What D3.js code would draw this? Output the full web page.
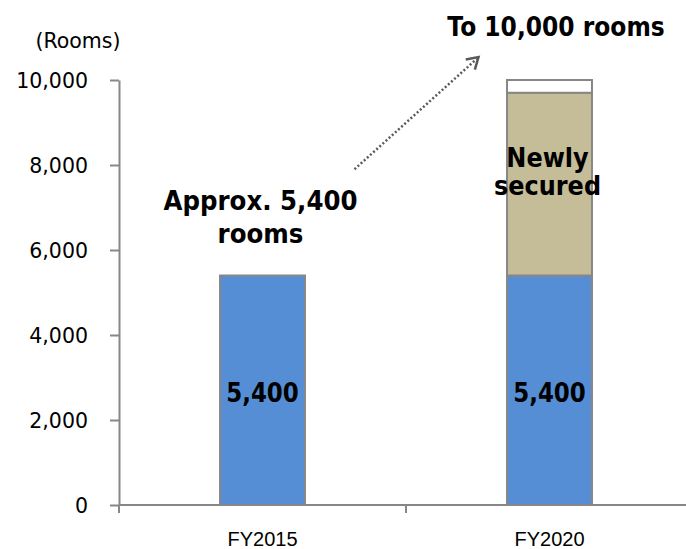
<!DOCTYPE html>
<html><head><meta charset="utf-8">
<script src="https://cdn.jsdelivr.net/npm/d3@7"></script>
<style>body{margin:0;background:#fff}svg{display:block}</style>
</head><body><svg id="c" width="686" height="549"></svg>
<script>
const categories = ["FY2015", "FY2020"];
const existingRooms = [5400, 5400];
const newlySecured = [0, 4300];
const remainingToTarget = [0, 300];
const yTicks = [0, 2000, 4000, 6000, 8000, 10000];
const barLabels = ["5,400", "5,400"];

const svg = d3.select("#c");
const x = d3.scaleBand().domain(categories).range([119, 693]);
const y = d3.scaleLinear().domain([0, 10000]).range([505, 80]);
const bw = x.bandwidth() * 0.296;
const cx = c => x(c) + x.bandwidth() / 2;

const stacks = categories.map((c, i) => {
  const segs = [];
  let base = 0;
  [[existingRooms[i], "#558ED5"], [newlySecured[i], "#C4BD97"], [remainingToTarget[i], "#FFFFFF"]].forEach(([v, col]) => {
    if (v > 0) segs.push({c, y0: base, y1: base + v, col});
    base += v;
  });
  return segs;
}).flat();

svg.append("g").selectAll("rect").data(stacks).join("rect")
  .attr("x", d => cx(d.c) - bw / 2)
  .attr("width", bw)
  .attr("y", d => y(d.y1))
  .attr("height", d => y(d.y0) - y(d.y1))
  .attr("fill", d => d.col)
  .attr("stroke", "#878787")
  .attr("stroke-width", 2);

// axes
const yAxis = svg.append("g").attr("transform", "translate(119,0)")
  .call(d3.axisLeft(y).tickValues(yTicks).tickSize(9).tickSizeOuter(0).tickFormat(d3.format(",")));
yAxis.select(".domain").attr("stroke", "#878787").attr("stroke-width", 2);
yAxis.selectAll(".tick line").attr("stroke", "#878787").attr("stroke-width", 2);
yAxis.selectAll(".tick text").attr("x", -31).attr("dy", "0.36em")
  .attr("font-family", "DejaVu Sans").attr("font-size", 20.5).attr("fill", "#000");

const xAxis = svg.append("g").attr("transform", "translate(0,505)");
xAxis.append("line").attr("x1", 119).attr("x2", 693).attr("stroke", "#878787").attr("stroke-width", 2);
xAxis.selectAll("line.t").data([119, 119 + x.step(), 119 + 2 * x.step()]).join("line").attr("class", "t")
  .attr("x1", d => d).attr("x2", d => d).attr("y1", 0).attr("y2", 8)
  .attr("stroke", "#878787").attr("stroke-width", 2);
xAxis.selectAll("text").data(categories).join("text")
  .attr("x", d => cx(d)).attr("y", 41).attr("text-anchor", "middle")
  .attr("font-family", "Liberation Sans, Arial").attr("font-size", 20).text(d => d);

svg.append("text").attr("x", 78).attr("y", 48).attr("text-anchor", "middle")
  .attr("font-family", "DejaVu Sans").attr("font-size", 20.5).text("(Rooms)");

const bold = (t, xx, yy, fs) => svg.append("text")
  .attr("transform", `translate(${xx},${yy}) scale(1,1.12)`).attr("text-anchor", "middle")
  .attr("font-family", "DejaVu Sans").attr("font-weight", "bold").attr("font-size", fs).text(t);

// bar value labels
categories.forEach((c, i) => bold(barLabels[i], cx(c), y(2430), 23));

bold("Newly", cx("FY2020") - 2, y(7950), 24);
bold("secured", cx("FY2020") - 2, y(7290), 24);
bold("Approx. 5,400", cx("FY2015") - 2, y(6940), 24.5);
bold("rooms", cx("FY2015") - 2, y(6160), 24.5);
bold("To 10,000 rooms", 556, 36, 23.4);

// dotted arrow
const ax1 = cx("FY2015") + 92, ay1 = y(7900), ax2 = cx("FY2020") - 71, ay2 = y(10540);
svg.append("line").attr("x1", ax1).attr("y1", ay1).attr("x2", ax2 - 2).attr("y2", ay2 + 2)
  .attr("stroke", "#595959").attr("stroke-width", 2.5).attr("stroke-dasharray", "2,2.2");
const ang = Math.atan2(ay2 - ay1, ax2 - ax1);
const hl = 13, ha = 0.55;
svg.append("path")
  .attr("d", `M${ax2 - hl * Math.cos(ang - ha)},${ay2 - hl * Math.sin(ang - ha)} L${ax2},${ay2} L${ax2 - hl * Math.cos(ang + ha)},${ay2 - hl * Math.sin(ang + ha)}`)
  .attr("fill", "none").attr("stroke", "#595959").attr("stroke-width", 2.5);
</script></body></html>
